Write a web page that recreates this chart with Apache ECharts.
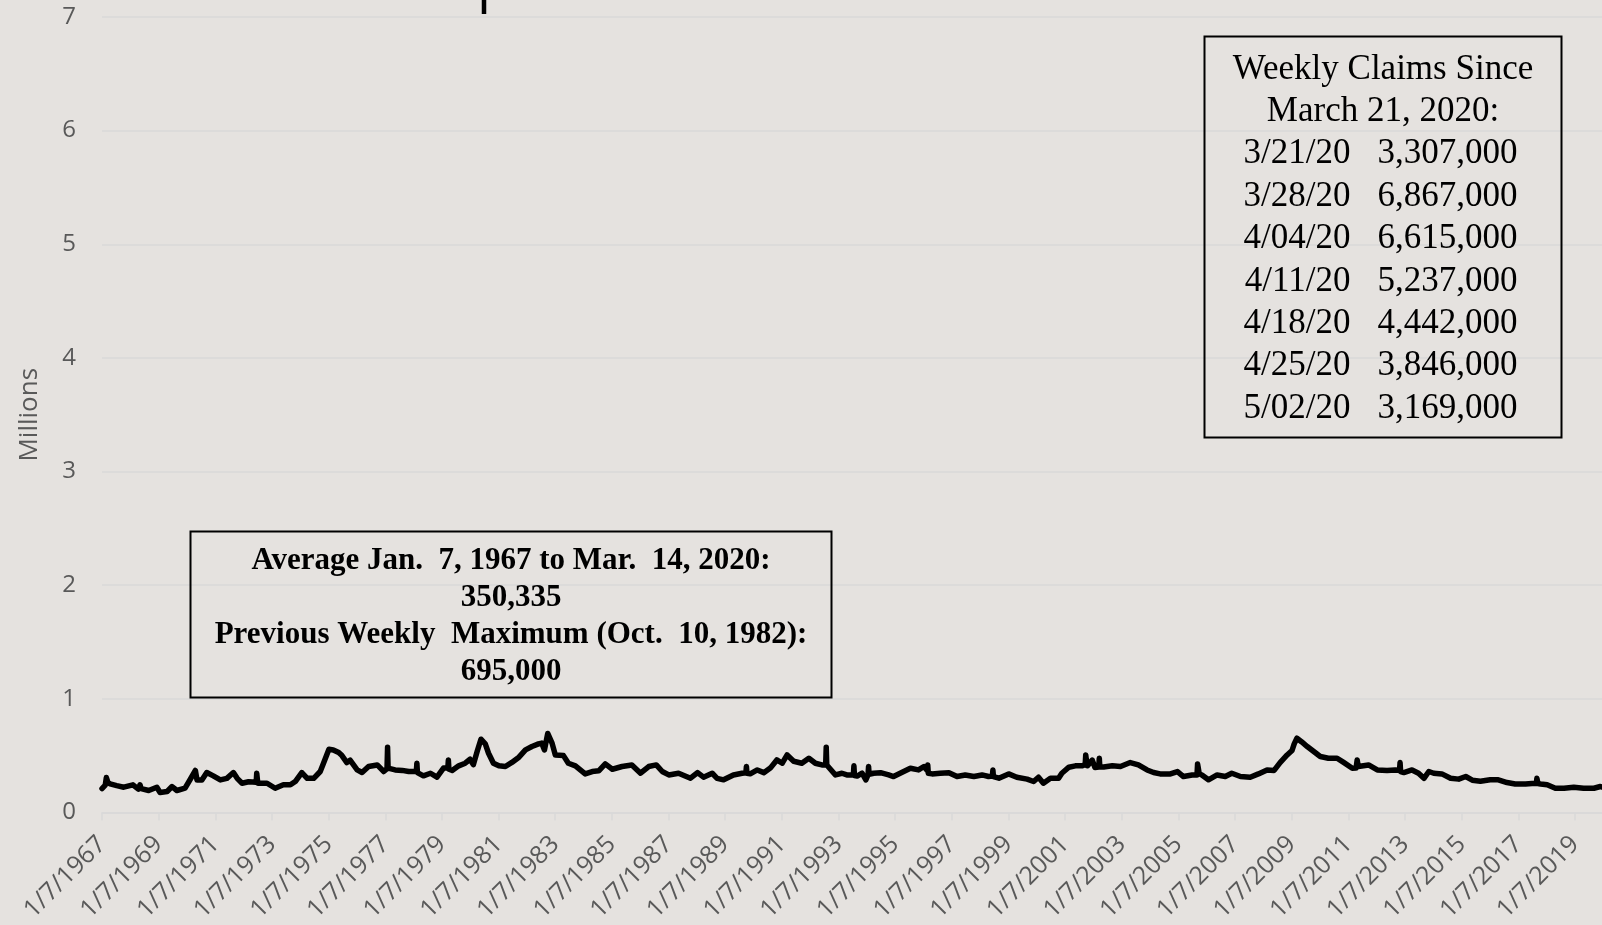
<!DOCTYPE html>
<html>
<head>
<meta charset="utf-8">
<title>Weekly Initial Unemployment Claims</title>
<script src="https://cdn.jsdelivr.net/npm/echarts/dist/echarts.min.js"></script>
<style>
  html, body { margin: 0; padding: 0; background: #E5E2DF; overflow: hidden; }
  /* the plot runs on past the right edge of the page */
  #chart { width: 1680px; height: 925px; }
</style>
</head>
<body>
<div id="chart"></div>
<script>
// Weekly initial claims (thousands), week-ending dates
const weekDates = [
  '1967-01-07','1967-02-18','1967-03-04','1967-03-25','1967-04-22','1967-07-15','1967-10-14','1968-02-10','1968-04-20','1968-05-11',
  '1968-05-25','1968-08-31','1968-12-14','1969-01-25','1969-04-26','1969-06-28','1969-08-30','1969-12-13','1970-01-24','1970-04-25',
  '1970-05-16','1970-07-18','1970-09-19','1970-12-12','1971-03-13','1971-06-05','1971-08-28','1971-10-16','1971-12-18','1972-03-11',
  '1972-06-17','1972-06-24','1972-07-08','1972-11-04','1973-02-17','1973-06-02','1973-09-01','1973-11-03','1974-01-26','1974-04-06',
  '1974-06-29','1974-09-21','1974-11-02','1975-01-11','1975-03-08','1975-05-17','1975-06-28','1975-08-30','1975-10-11','1976-01-10',
  '1976-03-13','1976-06-05','1976-09-25','1976-12-18','1977-01-29','1977-02-05','1977-02-12','1977-05-14','1977-08-13','1977-11-05',
  '1978-02-11','1978-02-18','1978-02-25','1978-05-13','1978-08-12','1978-11-04','1979-01-27','1979-03-24','1979-03-31','1979-04-07',
  '1979-05-19','1979-08-11','1979-11-03','1980-01-05','1980-02-16','1980-04-05','1980-05-24','1980-07-19','1980-08-30','1980-11-01',
  '1981-01-10','1981-04-04','1981-06-27','1981-09-26','1981-12-19','1982-03-13','1982-06-05','1982-07-17','1982-08-21','1982-10-02',
  '1982-11-27','1983-01-08','1983-04-23','1983-06-25','1983-09-24','1984-01-28','1984-04-28','1984-07-21','1984-10-13','1985-01-12',
  '1985-05-18','1985-09-21','1986-01-11','1986-04-26','1986-08-02','1986-10-18','1987-01-10','1987-05-16','1987-10-17','1988-01-16',
  '1988-04-02','1988-07-23','1988-09-24','1988-12-17','1989-04-22','1989-08-12','1989-09-30','1989-10-07','1989-10-14','1989-11-25',
  '1990-02-24','1990-05-19','1990-08-11','1990-11-03','1991-01-12','1991-03-16','1991-06-08','1991-09-21','1991-12-21','1992-03-14',
  '1992-06-06','1992-07-25','1992-08-01','1992-08-08','1992-11-28','1993-02-20','1993-04-24','1993-07-17','1993-07-24','1993-07-31',
  '1993-09-04','1993-11-06','1993-12-25','1994-01-22','1994-01-29','1994-02-05','1994-04-02','1994-07-02','1994-10-15','1994-12-17',
  '1995-04-01','1995-07-22','1995-11-04','1996-01-13','1996-02-24','1996-03-02','1996-03-09','1996-04-27','1996-08-10','1996-11-30',
  '1997-03-15','1997-06-28','1997-10-18','1998-01-31','1998-04-25','1998-06-13','1998-06-20','1998-06-27','1998-09-05','1999-01-09',
  '1999-04-24','1999-09-04','1999-11-27','2000-01-29','2000-04-01','2000-07-01','2000-10-14','2000-11-25','2001-02-24','2001-05-19',
  '2001-08-11','2001-09-22','2001-09-29','2001-10-06','2001-10-20','2001-12-22','2002-01-26','2002-03-16','2002-03-23','2002-03-30',
  '2002-05-18','2002-09-07','2002-12-21','2003-04-26','2003-08-09','2003-11-29','2004-02-21','2004-05-15','2004-09-25','2004-12-25',
  '2005-03-12','2005-07-02','2005-09-03','2005-09-10','2005-09-17','2005-10-01','2005-11-05','2006-01-28','2006-05-20','2006-09-02',
  '2006-11-25','2007-03-17','2007-07-21','2007-11-03','2008-02-23','2008-05-24','2008-08-09','2008-11-08','2009-01-10','2009-02-07',
  '2009-03-14','2009-05-16','2009-07-25','2009-10-17','2010-01-09','2010-04-24','2010-08-14','2010-11-06','2011-02-26','2011-04-16',
  '2011-04-30','2011-05-14','2011-09-24','2012-01-14','2012-05-19','2012-09-01','2012-10-27','2012-11-03','2012-11-10','2012-12-22',
  '2013-04-06','2013-06-29','2013-09-07','2013-11-09','2014-01-11','2014-04-26','2014-08-16','2014-11-29','2015-02-28','2015-05-23',
  '2015-09-05','2016-01-09','2016-04-23','2016-08-13','2016-11-26','2017-04-08','2017-07-01','2017-08-26','2017-09-02','2017-09-16',
  '2017-10-21','2018-01-13','2018-04-28','2018-08-18','2018-12-22','2019-04-27','2019-09-07','2019-11-30','2020-02-15','2020-03-14'
];
const claimsThousands = [
  210, 240, 307, 262, 251, 236, 222, 243, 205, 243,
  210, 193, 222, 175, 184, 228, 193, 213, 263, 369,
  286, 286, 351, 322, 286, 300, 351, 300, 257, 270,
  265, 345, 257, 257, 213, 243, 243, 272, 351, 300,
  300, 360, 433, 556, 550, 527, 500, 439, 460, 374,
  351, 404, 418, 360, 385, 574, 390, 374, 370, 360,
  360, 433, 351, 322, 345, 310, 390, 390, 462, 380,
  370, 410, 433, 468, 420, 536, 644, 603, 521, 433,
  410, 404, 440, 486, 550, 580, 603, 610, 550, 695,
  610, 506, 500, 433, 410, 339, 360, 366, 427, 380,
  404, 418, 345, 404, 418, 360, 330, 345, 301, 351,
  310, 345, 300, 287, 330, 345, 350, 404, 345, 340,
  374, 350, 390, 462, 433, 506, 450, 433, 477, 433,
  418, 420, 574, 418, 330, 345, 330, 330, 410, 325,
  320, 345, 287, 330, 404, 335, 345, 350, 330, 316,
  351, 389, 374, 404, 370, 418, 345, 339, 345, 350,
  316, 330, 316, 330, 316, 320, 374, 315, 301, 339,
  310, 293, 272, 310, 257, 300, 300, 345, 398, 410,
  410, 420, 506, 470, 410, 460, 395, 400, 477, 400,
  400, 410, 404, 439, 418, 374, 351, 339, 339, 360,
  316, 330, 330, 427, 400, 340, 330, 287, 330, 316,
  345, 316, 310, 339, 374, 370, 439, 506, 545, 603,
  653, 620, 580, 536, 492, 477, 477, 440, 389, 390,
  462, 404, 418, 374, 370, 374, 372, 439, 360, 351,
  374, 345, 300, 360, 345, 339, 301, 293, 316, 284,
  275, 287, 287, 263, 250, 250, 255, 255, 301, 255,
  250, 243, 213, 213, 222, 213, 213, 228, 210, 211
];
// Claims since March 21, 2020 (thousands)
const recentDates = ['2020-03-21','2020-03-28','2020-04-04','2020-04-11','2020-04-18','2020-04-25','2020-05-02'];
const recentClaims = [3307, 6867, 6615, 5237, 4442, 3846, 3169];

// Summary notes
const averageNote = ['Average Jan.  7, 1967 to Mar.  14, 2020:', '350,335',
                     'Previous Weekly  Maximum (Oct.  10, 1982):', '695,000'];
const sinceTitle = ['Weekly Claims Since', 'March 21, 2020:'];

// x positions: years elapsed since the first week (1/7/1967)
const EPOCH = Date.UTC(1967, 0, 7);
const YEAR_MS = 365.2425 * 86400000;
const toYears = d => (Date.parse(d) - EPOCH) / YEAR_MS;

const allDates = weekDates.concat(recentDates);
const allClaims = claimsThousands.concat(recentClaims);
const lineData = allDates.map((d, i) => [toYears(d), allClaims[i]]);

const shortDate = d => {
  const [y, m, day] = d.split('-');
  return Number(m) + '/' + day + '/' + y.slice(2);
};
const fullNumber = v => (v * 1000).toLocaleString('en-US');

const serif = '"Liberation Serif", "Times New Roman", serif';
const graphics = [];

// Box: weekly claims since March 21, 2020
const bx = 1204.5, by = 36.5, bw = 357, bh = 401, lh = 42.4;
graphics.push({ type: 'rect', shape: { x: bx, y: by, width: bw, height: bh },
  style: { fill: 'none', stroke: '#000', lineWidth: 2 }, z: 10 });
sinceTitle.forEach((t, i) => graphics.push({ type: 'text', z: 11,
  style: { x: bx + bw / 2, y: by + 33 + i * lh, text: t, textAlign: 'center', textVerticalAlign: 'middle',
           font: '35px ' + serif, fill: '#000' } }));
recentDates.forEach((d, i) => {
  const y = by + 33 + (i + 2) * lh;
  graphics.push({ type: 'text', z: 11,
    style: { x: bx + 146, y: y, text: shortDate(d), textAlign: 'right', textVerticalAlign: 'middle',
             font: '35px ' + serif, fill: '#000' } });
  graphics.push({ type: 'text', z: 11,
    style: { x: bx + 173, y: y, text: fullNumber(recentClaims[i]), textAlign: 'left', textVerticalAlign: 'middle',
             font: '35px ' + serif, fill: '#000' } });
});

// Box: long-run average and previous maximum
const ax = 190.5, ay = 531.5, aw = 641, ah = 166, alh = 37.2;
graphics.push({ type: 'rect', shape: { x: ax, y: ay, width: aw, height: ah },
  style: { fill: 'none', stroke: '#000', lineWidth: 2 }, z: 10 });
averageNote.forEach((t, i) => graphics.push({ type: 'text', z: 11,
  style: { x: ax + aw / 2, y: ay + 29 + i * alh, text: t, textAlign: 'center', textVerticalAlign: 'middle',
           font: 'bold 31px ' + serif, fill: '#000' } }));

// Short black stroke at the top edge
graphics.push({ type: 'line', shape: { x1: 484, y1: 0, x2: 484, y2: 14 },
  style: { stroke: '#000', lineWidth: 4.5 }, z: 10 });

const chart = echarts.init(document.getElementById('chart'), null, { renderer: 'canvas' });
const axisGrey = '#595959';
const lineGrey = '#D9D9D9';
chart.setOption({
  animation: false,
  backgroundColor: '#E5E2DF',
  grid: { left: 102, top: 17, width: 54 * 28.327, height: 797 },
  xAxis: {
    type: 'value', min: 0, max: 54, interval: 2,
    axisLine: { show: true, lineStyle: { color: lineGrey, width: 1.5 } },
    axisTick: { show: true, length: 8, lineStyle: { color: lineGrey, width: 1.5 } },
    splitLine: { show: false },
    axisLabel: {
      rotate: 45, margin: 28, fontSize: 25, color: axisGrey, fontFamily: 'Open Sans',
      showMaxLabel: false,
      formatter: v => '1/7/' + (1967 + Math.round(v))
    }
  },
  yAxis: {
    type: 'value', min: 0, max: 7000, interval: 1000,
    name: 'Millions', nameLocation: 'middle', nameGap: 59,
    nameTextStyle: { fontSize: 26, color: axisGrey, fontFamily: 'Open Sans' },
    axisLine: { show: false }, axisTick: { show: false },
    splitLine: { lineStyle: { color: lineGrey, width: 1.5 } },
    axisLabel: { fontSize: 24, color: axisGrey, fontFamily: 'Open Sans', margin: 26,
                 formatter: v => String(v / 1000) }
  },
  series: [{
    type: 'line', data: lineData, showSymbol: false,
    lineStyle: { color: '#000', width: 5.5, join: 'round', cap: 'round' },
    z: 5
  }],
  graphic: graphics
});
</script>
</body>
</html>
